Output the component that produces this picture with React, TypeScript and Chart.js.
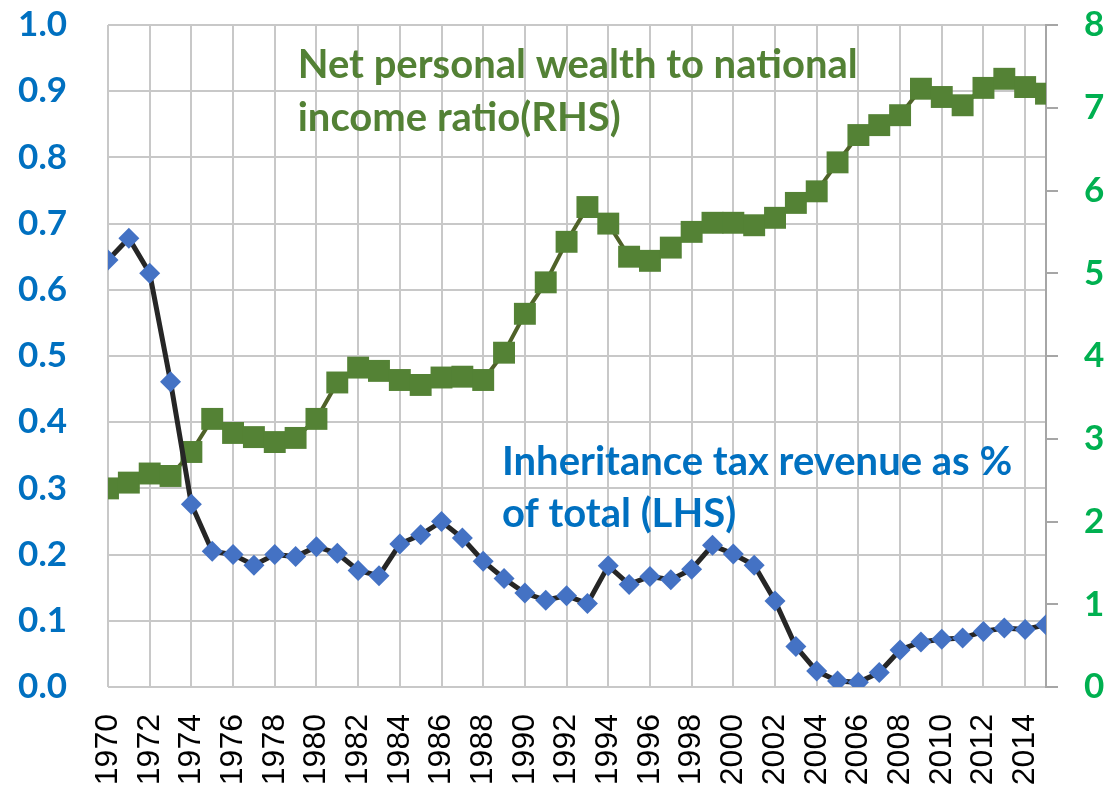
import React, { useEffect, useRef } from "react";
import { Chart, registerables } from "chart.js";

Chart.register(...registerables);

const years = [
  1970, 1971, 1972, 1973, 1974, 1975, 1976, 1977, 1978, 1979,
  1980, 1981, 1982, 1983, 1984, 1985, 1986, 1987, 1988, 1989,
  1990, 1991, 1992, 1993, 1994, 1995, 1996, 1997, 1998, 1999,
  2000, 2001, 2002, 2003, 2004, 2005, 2006, 2007, 2008, 2009,
  2010, 2011, 2012, 2013, 2014, 2015,
];

// Inheritance tax revenue as % of total (LHS)
const inheritanceTax = [
  0.645, 0.678, 0.625, 0.461, 0.276, 0.205, 0.200, 0.184, 0.200, 0.197,
  0.212, 0.202, 0.176, 0.168, 0.216, 0.230, 0.250, 0.225, 0.190, 0.164,
  0.142, 0.131, 0.138, 0.126, 0.183, 0.155, 0.167, 0.162, 0.178, 0.214,
  0.201, 0.184, 0.130, 0.061, 0.024, 0.009, 0.007, 0.022, 0.056, 0.068,
  0.072, 0.074, 0.084, 0.089, 0.087, 0.094,
];

// Net personal wealth to national income ratio (RHS)
const wealthRatio = [
  2.40, 2.47, 2.58, 2.55, 2.84, 3.24, 3.07, 3.02, 2.96, 3.01,
  3.24, 3.68, 3.86, 3.82, 3.71, 3.65, 3.74, 3.75, 3.71, 4.04,
  4.51, 4.89, 5.38, 5.80, 5.60, 5.20, 5.15, 5.31, 5.50, 5.61,
  5.61, 5.58, 5.67, 5.85, 5.99, 6.34, 6.67, 6.79, 6.91, 7.23,
  7.13, 7.03, 7.24, 7.35, 7.25, 7.17,
];

const xTickYears = [
  1970, 1972, 1974, 1976, 1978, 1980, 1982, 1984, 1986, 1988, 1990, 1992,
  1994, 1996, 1998, 2000, 2002, 2004, 2006, 2008, 2010, 2012, 2014,
];
const leftTickValues = [0, 0.1, 0.2, 0.3, 0.4, 0.5, 0.6, 0.7, 0.8, 0.9, 1.0];
const rightTickValues = [0, 1, 2, 3, 4, 5, 6, 7, 8];

const wealthLabelLines = ["Net personal wealth to national", "income ratio(RHS)"];
const taxLabelLines = ["Inheritance tax revenue as %", "of total (LHS)"];

const annotationPlugin = {
  id: "textNotes",
  afterDraw(chart: any) {
    const ctx = chart.ctx;
    const xs = chart.scales.x;
    const yl = chart.scales.yLeft;
    const yr = chart.scales.yRight;
    ctx.save();
    ctx.textAlign = "left";
    ctx.textBaseline = "alphabetic";
    ctx.font = "bold 40px Lato";
    ctx.fillStyle = "#538135";
    const wx = xs.getPixelForValue(1979.1);
    const wy = yr.getPixelForValue(7.36);
    wealthLabelLines.forEach((t, i) => ctx.fillText(t, wx, wy + i * 53));
    ctx.fillStyle = "#0070C0";
    const tx = xs.getPixelForValue(1988.9);
    const ty = yl.getPixelForValue(0.32);
    taxLabelLines.forEach((t, i) => ctx.fillText(t, tx, ty + i * 52));
    ctx.restore();
  },
};

const zeroVerticalPadding = (axis: any) => {
  axis.paddingTop = 0;
  axis.paddingBottom = 0;
};

export default function App() {
  const ref = useRef<HTMLCanvasElement | null>(null);

  useEffect(() => {
    if (!ref.current) return;
    const chart = new Chart(ref.current, {
      type: "line",
      data: {
        datasets: [
          {
            label: "Inheritance tax revenue as % of total (LHS)",
            data: years.map((y, i) => ({ x: y, y: inheritanceTax[i] })),
            yAxisID: "yLeft",
            borderColor: "#262626",
            borderWidth: 5,
            pointStyle: "rectRot",
            pointRadius: 10.5,
            pointBackgroundColor: "#4472C4",
            pointBorderWidth: 0,
            tension: 0,
            order: 0,
          },
          {
            label: "Net personal wealth to national income ratio (RHS)",
            data: years.map((y, i) => ({ x: y, y: wealthRatio[i] })),
            yAxisID: "yRight",
            borderColor: "#4F6228",
            borderWidth: 4,
            pointStyle: "rect",
            pointRadius: 15.5,
            pointBackgroundColor: "#548235",
            pointBorderWidth: 0,
            tension: 0,
            order: 1,
          },
        ],
      },
      options: {
        responsive: false,
        animation: false,
        devicePixelRatio: 1,
        layout: { padding: { top: 25, left: 0, right: 0, bottom: 0 } },
        plugins: {
          legend: { display: false },
          title: { display: false },
          tooltip: { enabled: false },
        },
        scales: {
          x: {
            type: "linear",
            min: 1970,
            max: 2015,
            afterBuildTicks: (axis: any) => {
              axis.ticks = xTickYears.map((v) => ({ value: v }));
            },
            afterFit: (axis: any) => {
              axis.height = 100;
              axis.paddingLeft = 0;
              axis.paddingRight = 0;
              axis.paddingTop = 0;
              axis.paddingBottom = 0;
            },
            grid: { color: "#C8C8C8", lineWidth: 2, drawTicks: false },
            border: { display: false },
            ticks: {
              autoSkip: false,
              minRotation: 90,
              maxRotation: 90,
              padding: 27,
              color: "#000000",
              font: { family: "'Liberation Sans', Arial", size: 32 },
              callback: (v: any) => String(v),
            },
          },
          yLeft: {
            type: "linear",
            position: "left",
            min: 0,
            max: 1,
            afterBuildTicks: (axis: any) => {
              axis.ticks = leftTickValues.map((v) => ({ value: v }));
            },
            afterFit: (axis: any) => {
              axis.width = 108;
              zeroVerticalPadding(axis);
            },
            grid: { color: "#C8C8C8", lineWidth: 2, drawTicks: false },
            border: { display: false },
            ticks: {
              padding: 41,
              color: "#0070C0",
              font: { family: "Lato", size: 35, weight: "bold" },
              callback: (v: any) => Number(v).toFixed(1),
            },
          },
          yRight: {
            type: "linear",
            position: "right",
            min: 0,
            max: 8,
            afterBuildTicks: (axis: any) => {
              axis.ticks = rightTickValues.map((v) => ({ value: v }));
            },
            afterFit: (axis: any) => {
              axis.width = 66;
              zeroVerticalPadding(axis);
            },
            grid: {
              drawOnChartArea: false,
              color: "#A6A6A6",
              lineWidth: 2,
              tickLength: 12,
            },
            border: { display: true, color: "#A6A6A6", width: 2 },
            ticks: {
              padding: 26,
              color: "#00B050",
              font: { family: "Lato", size: 35, weight: "bold" },
              callback: (v: any) => String(v),
            },
          },
        },
      },
      plugins: [annotationPlugin],
    } as any);
    return () => chart.destroy();
  }, []);

  return (
    <div style={{ position: "fixed", left: 0, top: 0, width: 1112, height: 787, background: "#ffffff" }}>
      <canvas ref={ref} width={1112} height={787} style={{ width: 1112, height: 787 }} />
    </div>
  );
}
